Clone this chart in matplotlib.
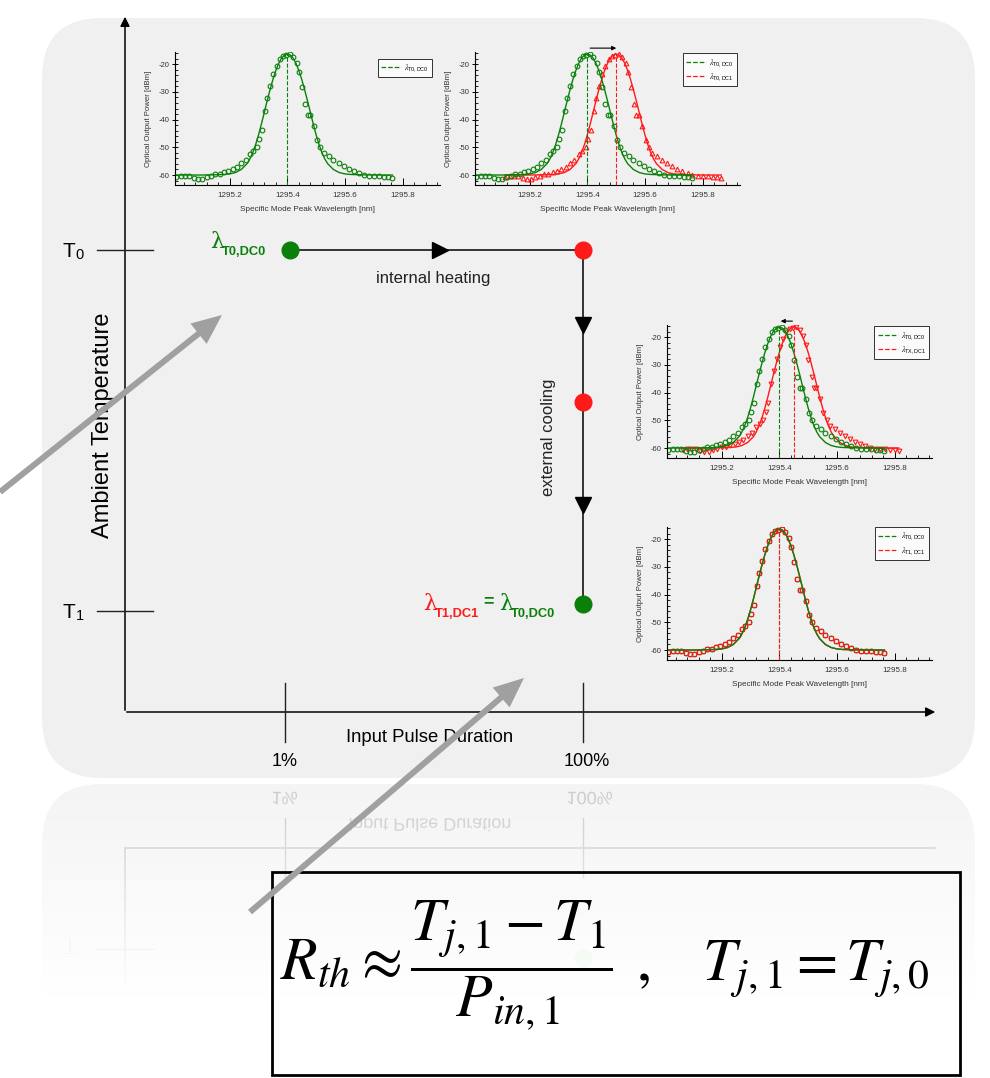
import numpy as np
import matplotlib.pyplot as plt
from matplotlib.patches import FancyBboxPatch, Rectangle, FancyArrow, PathPatch
from matplotlib.textpath import TextPath
from matplotlib.font_manager import FontProperties
from matplotlib.transforms import Affine2D
from matplotlib.lines import Line2D
from matplotlib.ticker import MultipleLocator

plt.rcParams['font.family'] = ['Liberation Sans', 'DejaVu Sans']
plt.rcParams['mathtext.fontset'] = 'stix'
plt.rcParams['axes.unicode_minus'] = False

# measured spectrum, offset from the mode peak [nm] and power [dBm]
meas_dx = [-0.385, -0.370, -0.355, -0.340, -0.325, -0.310, -0.295, -0.280, -0.265, -0.250,
           -0.235, -0.220, -0.205, -0.190, -0.175, -0.160, -0.145, -0.130, -0.118, -0.105,
           -0.097, -0.088, -0.078, -0.069, -0.059, -0.049, -0.037, -0.026, -0.014, -0.004,
           0.009, 0.021, 0.033, 0.041, 0.050, 0.062, 0.070, 0.079, 0.091, 0.102,
           0.114, 0.126, 0.143, 0.160, 0.178, 0.195, 0.213, 0.230, 0.248, 0.265,
           0.283, 0.300, 0.318, 0.335, 0.350, 0.365]
meas_db = [-60.8, -60.5, -60.4, -60.4, -60.9, -61.4, -61.3, -60.7, -60.2, -59.8,
           -59.5, -59.0, -58.6, -58.0, -57.0, -55.8, -54.4, -52.5, -51.3, -49.8,
           -47.0, -43.8, -37.0, -32.1, -28.0, -23.6, -20.7, -18.2, -16.9, -16.7,
           -16.4, -17.4, -19.4, -22.8, -28.2, -34.4, -38.4, -38.4, -42.3, -47.4,
           -49.8, -52.2, -53.2, -54.4, -55.8, -56.8, -57.7, -58.6, -59.4, -60.0,
           -60.2, -60.4, -60.5, -60.7, -60.8, -61.0]

# fitted curve
fit_dx = [-0.385, -0.30, -0.25, -0.22, -0.20, -0.18, -0.16, -0.14, -0.13, -0.12,
          -0.11, -0.10, -0.09, -0.08, -0.07, -0.06, -0.05, -0.04, -0.03, -0.02,
          -0.01, 0.0, 0.01, 0.02, 0.03, 0.04, 0.05, 0.06, 0.07, 0.08,
          0.09, 0.10, 0.11, 0.12, 0.13, 0.14, 0.16, 0.18, 0.20, 0.22,
          0.25, 0.30, 0.365]
fit_db = [-60.0, -60.0, -59.9, -59.8, -59.6, -59.1, -58.0, -55.9, -54.2, -51.9,
          -49.0, -45.5, -41.6, -37.4, -33.2, -29.2, -25.5, -22.3, -19.7, -17.8,
          -16.7, -16.3, -16.7, -17.8, -19.7, -22.3, -25.5, -29.2, -33.2, -37.4,
          -41.6, -45.5, -49.0, -51.9, -54.2, -55.9, -58.0, -59.1, -59.6, -59.8,
          -59.9, -60.0, -60.0]

peak_ref = 1295.40
red_shift = [None, 0.10, 0.05, 0.0]
red_marker = [None, '^', 'v', 's']
red_label = [None, r'$\lambda_{\mathregular{T0,DC1}}$', r'$\lambda_{\mathregular{TX,DC1}}$',
             r'$\lambda_{\mathregular{T1,DC1}}$']
green_label = r'$\lambda_{\mathregular{T0,DC0}}$'

duty_labels = ['1%', '100%']
temp_labels = [r'T$_\mathregular{0}$', r'T$_\mathregular{1}$']

GREEN = '#0a800a'
RED = '#ff1a1a'
W, H = 990, 1078

fig = plt.figure(figsize=(W / 100, H / 100), dpi=100)
ax = fig.add_axes([0, 0, 1, 1])
ax.set_xlim(0, W)
ax.set_ylim(H, 0)
ax.axis('off')

# background panel and its reflection
ax.add_patch(FancyBboxPatch((42, 18), 933, 760, boxstyle='round,pad=0,rounding_size=60',
                            fc='#f0f0f0', ec='none', zorder=0))
ax.add_patch(FancyBboxPatch((42, 784), 933, 330, boxstyle='round,pad=0,rounding_size=60',
                            fc='#f3f3f3', ec='none', zorder=0))


def mirror_text(x, y, s, size, color):
    tp = TextPath((0, 0), s, size=size, prop=FontProperties(family='Liberation Sans'))
    bb = tp.get_extents()
    tr = Affine2D().translate(-(bb.x0 + bb.x1) / 2, -(bb.y0 + bb.y1) / 2).translate(x, y)
    ax.add_patch(PathPatch(tp, transform=tr + ax.transData, fc=color, ec='none', zorder=1))


ref_c = '#c4c4c4'
ax.plot([125, 935], [848, 848], color=ref_c, lw=1.2, zorder=1)
ax.plot([125, 125], [848, 1078], color=ref_c, lw=1.2, zorder=1)
for x in [285, 583]:
    ax.plot([x, x], [818, 877], color=ref_c, lw=1, zorder=1)
ax.plot([97, 153], [949, 949], color=ref_c, lw=1, zorder=1)
mirror_text(285, 798, '1%', 18, ref_c)
mirror_text(590, 798, '100%', 18, ref_c)
mirror_text(430, 823, 'Input Pulse Duration', 18, ref_c)
mirror_text(70, 947, 'T', 21, '#d8d8d8')
ax.plot(583, 958, 'o', color='#c8e4c8', ms=12, zorder=1)
fade = np.ones((300, 2, 4))
fade[:, :, 3] = np.clip(np.linspace(0.1, 1.35, 300), 0, 1)[:, None]
ax.imshow(fade, extent=(0, W, H, 784), aspect='auto', zorder=2, interpolation='bilinear')

# main axes
ax.annotate('', xy=(125, 14), xytext=(125, 713),
            arrowprops=dict(arrowstyle='-|>', color='black', lw=1.1, mutation_scale=14), zorder=3)
ax.annotate('', xy=(938, 712), xytext=(124, 712),
            arrowprops=dict(arrowstyle='-|>', color='black', lw=1.1, mutation_scale=14), zorder=3)
for y, lab in zip([250, 611], temp_labels):
    ax.plot([97, 153], [y, y], color='#222222', lw=1, zorder=3)
    ax.text(62, y + 2, lab, fontsize=15, ha='left', va='center', zorder=3)
for x, lab in zip([285, 583], duty_labels):
    ax.plot([x, x], [683, 742], color='#222222', lw=1, zorder=3)
    ax.text(x + 4 * (lab == '100%'), 762, lab, fontsize=13, ha='center', va='center', zorder=3)
ax.text(103, 425, 'Ambient Temperature', fontsize=17, rotation=90, ha='center', va='center', zorder=3)
ax.text(430, 737, 'Input Pulse Duration', fontsize=13.3, ha='center', va='center', zorder=3)

# state diagram
ax.plot([290, 583], [250, 250], color='black', lw=1.1, zorder=3)
ax.plot([583, 583], [250, 604], color='black', lw=1.1, zorder=3)
ax.plot(440, 250, '>', color='black', ms=11, zorder=4)
ax.plot([583, 583], [325, 505], 'v', color='black', ms=11, zorder=4)
ax.plot([290, 583], [250, 604], 'o', color=GREEN, ms=12, zorder=5)
ax.plot([583, 583], [250, 402], 'o', color=RED, ms=12, zorder=5)
ax.text(433, 279, 'internal heating', fontsize=12, color='#222222', ha='center', va='center', zorder=3)
ax.text(548, 437, 'external cooling', fontsize=12, color='#222222', rotation=90,
        ha='center', va='center', zorder=3)


def lam_label(x, y, sub, color):
    ax.text(x, y, '\u03bb', fontsize=16, family=['DejaVu Serif'],
            color=color, ha='left', va='baseline', zorder=3)
    ax.text(x + 12, y + 7, sub, fontsize=9.3, fontweight='bold', color=color,
            ha='left', va='baseline', zorder=3)


lam_label(210, 248, 'T0,DC0', GREEN)
lam_label(423, 610, 'T1,DC1', RED)
ax.text(489, 602, '=', fontsize=13, fontweight='bold', color=GREEN, ha='center', va='center', zorder=3)
lam_label(499, 610, 'T0,DC0', GREEN)

# gray pointer arrows
for x0, y0, x1, y1 in [(0, 492, 222, 315), (250, 912, 524, 678)]:
    ax.add_patch(FancyArrow(x0, y0, x1 - x0, y1 - y0, width=6, head_width=26, head_length=30,
                            length_includes_head=True, color='#a0a0a0', ec='none', zorder=8))

# formula box
ax.add_patch(Rectangle((272, 872), 688, 203, fc='none', ec='black', lw=2, zorder=6))
ax.text(280, 966, r'$R_{th}\approx\dfrac{T_{j,1}-T_{1}}{P_{in,1}}$', fontsize=43,
        ha='left', va='center', zorder=7)
ax.text(636, 970, r'$,\quad T_{j,1}=T_{j,0}$', fontsize=43, ha='left', va='center', zorder=7)

# spectrum insets: left, top, right, bottom in px
inset_rects = [(175, 52, 440, 185), (475, 52, 740, 185), (667, 325, 932, 458), (667, 527, 932, 660)]
legend_anchor = [(0.97, 0.95), (0.99, 0.99), (0.99, 0.99), (0.99, 1.0)]
ylo, yhi = -63.6, -15.6
meas_x = np.array(meas_dx)
fit_x = np.array(fit_dx)
mk = dict(mfc='none', ms=3.4, mew=0.8)

for i, (l, t, r, b) in enumerate(inset_rects):
    a = fig.add_axes([l / W, 1 - b / H, (r - l) / W, (b - t) / H])
    a.set_facecolor('none')
    a.set_zorder(4)
    if red_shift[i] is not None:
        s = red_shift[i]
        a.plot(meas_x + peak_ref + s, meas_db, red_marker[i], mec=RED, **mk)
        a.plot(fit_x + peak_ref + s, fit_db, color=RED, lw=1)
        a.plot([peak_ref + s] * 2, [ylo, fit_db[21]], '--', color=RED, lw=0.8, zorder=4)
    a.plot(meas_x + peak_ref, meas_db, 'o', mec=GREEN, zorder=2 if i < 3 else 1, **mk)
    a.plot(fit_x + peak_ref, fit_db, color=GREEN, lw=1, zorder=3)
    a.plot([peak_ref] * 2, [ylo, fit_db[21]], '--', color=GREEN, lw=0.8, zorder=3)
    handles = [Line2D([], [], ls='--', color=GREEN, lw=0.9)]
    labels = [green_label]
    if red_shift[i] is not None:
        handles.append(Line2D([], [], ls='--', color=RED, lw=0.9))
        labels.append(red_label[i])
    if i == 1:
        a.annotate('', xy=(peak_ref + red_shift[i] + 0.01, -14.2), xytext=(peak_ref, -14.2),
                   annotation_clip=False,
                   arrowprops=dict(arrowstyle='-|>', color='black', lw=0.8, mutation_scale=6))
    if i == 2:
        a.annotate('', xy=(peak_ref - 0.005, -14.2), xytext=(peak_ref + red_shift[i] + 0.005, -14.2),
                   annotation_clip=False,
                   arrowprops=dict(arrowstyle='-|>', color='black', lw=0.8, mutation_scale=6))
    leg = a.legend(handles, labels, loc='upper right', bbox_to_anchor=legend_anchor[i],
                   borderaxespad=0, fontsize=5.5, handlelength=2.6, handletextpad=0.4,
                   frameon=True, fancybox=False, borderpad=0.45, labelspacing=0.3)
    leg.get_frame().set_edgecolor('black')
    leg.get_frame().set_linewidth(0.7)
    leg.get_frame().set_facecolor('white')
    a.set_xlim(1295.01, 1295.93)
    a.set_ylim(ylo, yhi)
    a.spines['top'].set_visible(False)
    a.spines['right'].set_visible(False)
    for sp in ['left', 'bottom']:
        a.spines[sp].set_linewidth(0.8)
    a.xaxis.set_minor_locator(MultipleLocator(0.04))
    a.yaxis.set_major_locator(MultipleLocator(10))
    a.yaxis.set_minor_locator(MultipleLocator(2))
    a.set_xticks([1295.2, 1295.4, 1295.6, 1295.8])
    a.set_xticklabels(['1295.2', '1295.4', '1295.6', '1295.8'])
    a.tick_params(axis='x', which='major', direction='in', length=5, width=0.7, labelsize=5.8,
                  labelcolor='#333333', pad=5)
    a.tick_params(axis='y', which='major', direction='inout', length=5, width=0.7, labelsize=5.5,
                  labelcolor='#333333', pad=1.5)
    a.tick_params(which='minor', direction='in', length=2.5, width=0.6)
    a.set_xlabel('Specific Mode Peak Wavelength [nm]', fontsize=5.9, color='#333333', labelpad=5)
    a.set_ylabel('Optical Output Power [dBm]', fontsize=5.6, color='#333333', labelpad=5)

ax.set_xlim(0, W)
ax.set_ylim(H, 0)
fig.savefig('out.png', dpi=100)
